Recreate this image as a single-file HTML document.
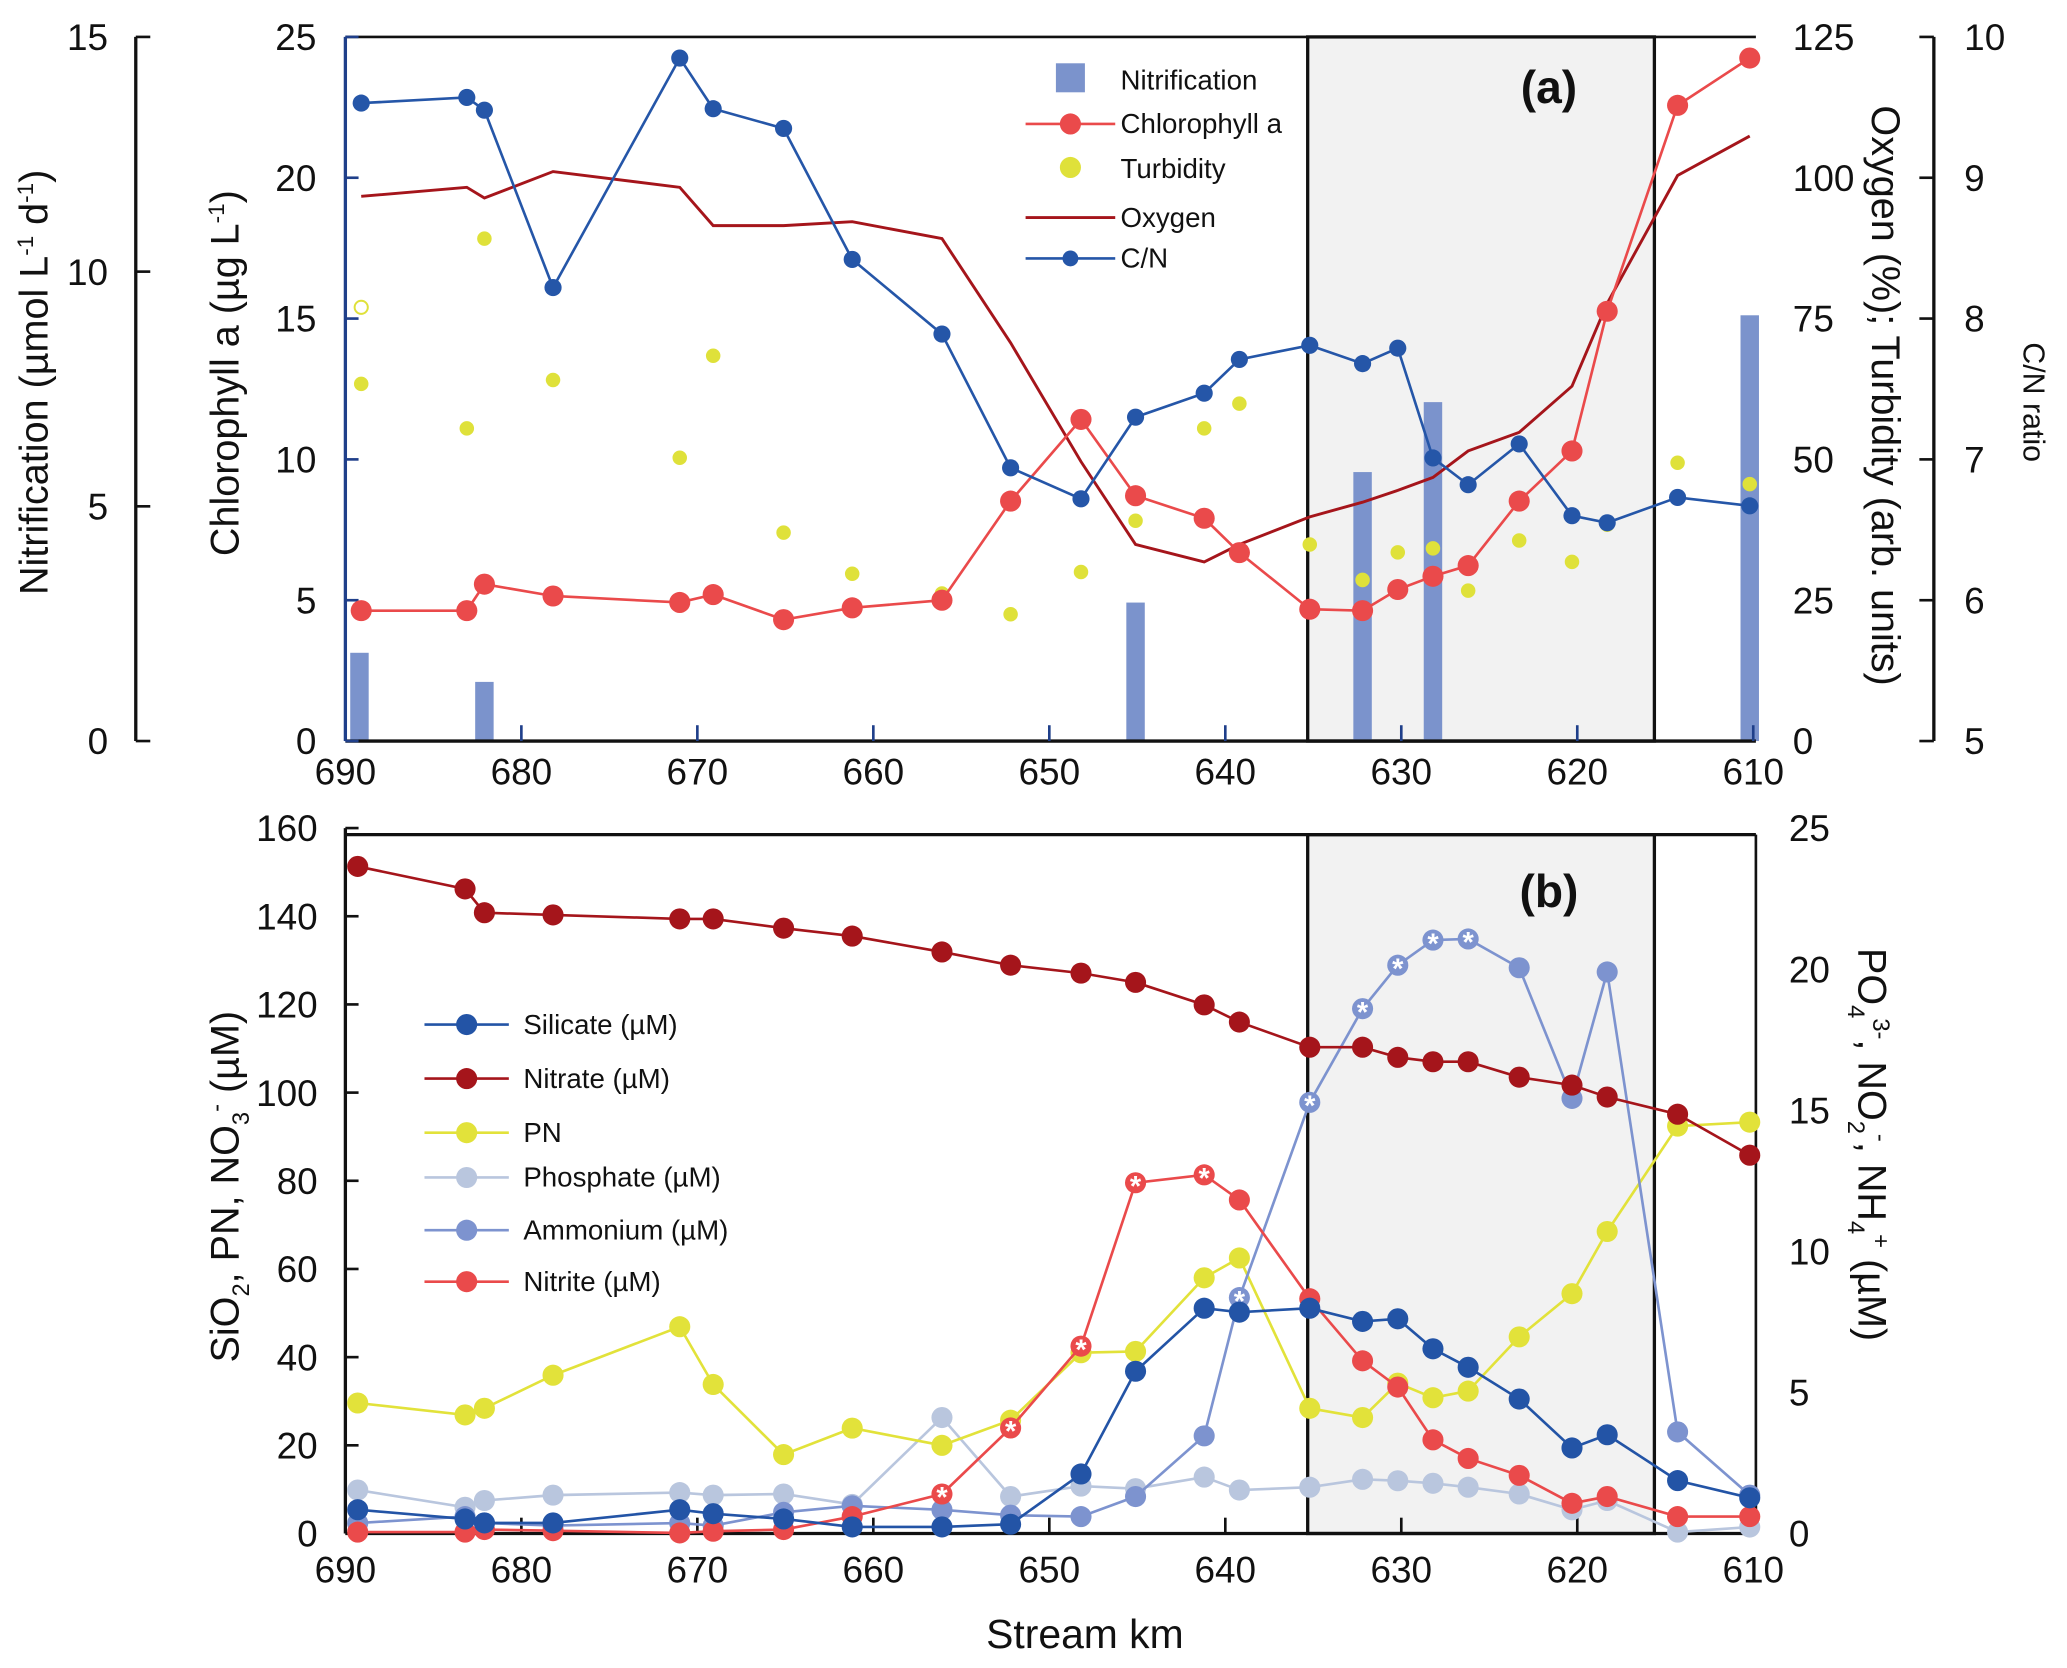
<!DOCTYPE html>
<html><head><meta charset="utf-8"><style>
html,body{margin:0;padding:0;background:#fff}
svg{display:block}
text{font-family:"Liberation Sans",sans-serif;fill:#111}
</style></head><body>
<svg id="chart" xmlns="http://www.w3.org/2000/svg" width="2067" height="1668" viewBox="0 0 1568 1265" preserveAspectRatio="none">
<g id="g"></g>
</svg>
<script>
// ---------- data ----------
const kmA = [689.1,683.1,682.1,678.2,671.0,669.1,665.1,661.2,656.1,652.2,648.2,645.1,641.2,639.2,635.2,632.2,630.2,628.2,626.2,623.3,620.3,618.3,614.3,610.2];
const cnRatio = [9.53,9.57,9.48,8.22,9.85,9.49,9.35,8.42,7.89,6.94,6.72,7.30,7.47,7.71,7.81,7.68,7.79,7.01,6.82,7.11,6.60,6.55,6.73,6.67];
const chlA = [4.63,4.63,5.57,5.15,4.92,5.2,4.31,4.73,5.0,8.52,11.42,8.71,7.91,6.69,4.68,4.63,5.38,5.85,6.23,8.52,10.3,15.26,22.57,24.25];
const oxygen = [96.7,98.3,96.4,101.1,98.3,91.5,91.5,92.2,89.2,70.7,49.6,34.9,31.8,34.9,39.8,42.4,44.5,46.8,51.5,54.8,63,77.7,100.4,107.4];
const turbidity = [63.4,55.5,89.2,64.1,50.3,68.4,37,29.7,26.2,22.5,30,39.1,55.5,59.9,34.9,28.6,33.5,34.2,26.7,35.6,31.8,38.4,49.4,45.6];
const turbHollowKm = [689.1];
const turbHollow = [77];
const nitrifKm = [689.2,682.1,645.1,632.2,628.2,610.2];
const nitrification = [1.88,1.26,2.95,5.73,7.22,9.07];

const kmB = [689.3,683.2,682.1,678.2,671.0,669.1,665.1,661.2,656.1,652.2,648.2,645.1,641.2,639.2,635.2,632.2,630.2,628.2,626.2,623.3,620.3,618.3,614.3,610.2];
const nitrate = [151.3,146.2,140.8,140.3,139.4,139.4,137.3,135.5,131.9,128.9,127.1,125,119.9,116,110.3,110.3,108,107,107,103.5,101.7,99,95.1,85.8];
const silicate = [5.4,3.3,2.4,2.4,5.4,4.5,3.3,1.5,1.5,2.1,13.5,36.8,51.1,50.2,51.1,48.1,48.7,41.9,37.7,30.5,19.4,22.4,12,8.1];
const pn = [29.6,26.9,28.4,35.9,46.9,33.8,17.9,23.9,20,25.7,41,41.3,58,62.5,28.4,26.3,34.1,30.8,32.3,44.6,54.4,68.5,92.4,93.3];
const nitrite = [0.05,0.05,0.14,0.1,0.02,0.08,0.14,0.6,1.4,3.74,6.64,12.43,12.71,11.82,8.32,6.12,5.19,3.32,2.66,2.06,1.07,1.31,0.6,0.6];
const nitriteStar = [0,0,0,0,0,0,0,0,1,1,1,1,1,0,0,0,0,0,0,0,0,0,0,0];
const ammonium = [0.37,0.6,0.37,0.28,0.37,0.28,0.75,0.98,0.84,0.65,0.6,1.31,3.46,8.36,15.28,18.6,20.14,21.03,21.07,20.05,15.42,19.9,3.6,1.36];
const ammoniumStar = [0,0,0,0,0,0,0,0,0,0,0,0,0,1,1,1,1,1,1,0,0,0,0,0];
const phosphate = [1.54,0.93,1.17,1.36,1.45,1.36,1.4,1.03,4.11,1.31,1.68,1.59,2.0,1.54,1.64,1.92,1.87,1.78,1.64,1.4,0.84,1.17,0.05,0.23];
const xTicks = [690,680,670,660,650,640,630,620,610];
const chlTicks = [0,5,10,15,20,25];
const nitTicks = [0,5,10,15];
const oxTicks = [0,25,50,75,100,125];
const cnTicks = [5,6,7,8,9,10];
const leftBTicks = [0,20,40,60,80,100,120,140,160];
const rightBTicks = [0,5,10,15,20,25];

// ---------- helpers ----------
const NS="http://www.w3.org/2000/svg";
const G=document.getElementById('g');
function mk(tag,attrs,parent){const e=document.createElementNS(NS,tag);for(const k in attrs)e.setAttribute(k,attrs[k]);(parent||G).appendChild(e);return e;}
function txt(s,x,y,size,anchor,parent,extra){const t=mk('text',Object.assign({x:x,y:y,'font-size':size,'text-anchor':anchor||'middle'},extra||{}),parent);t.innerHTML=s;return t;}
const X=km=>262+(690-km)*13.35;
const aTop=28,aBot=562,bTop=628,bBot=1163;
const yChl=v=>aBot-(v/25)*(aBot-aTop);
const yNit=v=>aBot-(v/15)*(aBot-aTop);
const yOx=v=>aBot-(v/125)*(aBot-aTop);
const yCN=v=>aBot-((v-5)/5)*(aBot-aTop);
const yL=v=>bBot-(v/160)*(bBot-bTop);
const yR=v=>bBot-(v/25)*(bBot-bTop);
const TF=28;

// ---------- panel a ----------
const pa=mk('g',{});


const shA=mk('rect',{x:992,y:aTop,width:263,height:aBot-aTop,fill:'#f2f2f2',stroke:'#111','stroke-width':2.5},pa);


nitrifKm.forEach((k,i)=>{const b=mk('rect',{x:X(k)-7,y:yNit(nitrification[i]),width:14,height:aBot-yNit(nitrification[i]),fill:'#7b93cc'},pa);

});
mk('line',{x1:262,y1:aTop,x2:1332,y2:aTop,stroke:'#111','stroke-width':2},pa);
mk('line',{x1:262,y1:aTop,x2:262,y2:aBot,stroke:'#1f3f8a','stroke-width':2.5},pa);
mk('line',{x1:262,y1:aBot,x2:1332,y2:aBot,stroke:'#111','stroke-width':2.5},pa);
xTicks.forEach(v=>{mk('line',{x1:X(v),y1:aBot,x2:X(v),y2:aBot-12,stroke:'#1f3f8a','stroke-width':2},pa);
const t=txt(v,X(v),aBot+33,TF,'middle',pa);});
chlTicks.forEach(v=>{mk('line',{x1:262,y1:yChl(v),x2:272,y2:yChl(v),stroke:'#1f3f8a','stroke-width':2},pa);txt(v,240,yChl(v)+10,TF,'end',pa);});
mk('line',{x1:103,y1:aTop,x2:103,y2:aBot,stroke:'#111','stroke-width':2.5},pa);
nitTicks.forEach(v=>{mk('line',{x1:103,y1:yNit(v),x2:114,y2:yNit(v),stroke:'#111','stroke-width':2},pa);txt(v,82,yNit(v)+10,TF,'end',pa);});
oxTicks.forEach(v=>{txt(v,1360,yOx(v)+10,TF,'start',pa);});
mk('line',{x1:1467,y1:aTop,x2:1467,y2:aBot,stroke:'#111','stroke-width':2.5},pa);
cnTicks.forEach(v=>{mk('line',{x1:1456,y1:yCN(v),x2:1467,y2:yCN(v),stroke:'#111','stroke-width':2},pa);txt(v,1490,yCN(v)+10,TF,'start',pa);});
let t;
t=txt('Nitrification (µmol L<tspan font-size="17" dy="-11">-1</tspan><tspan dy="11"> d</tspan><tspan font-size="17" dy="-11">-1</tspan><tspan dy="11">)</tspan>',0,0,30,'middle',pa,{transform:'translate(36,290) rotate(-90)'});

t=txt('Chlorophyll a (µg L<tspan font-size="17" dy="-11">-1</tspan><tspan dy="11">)</tspan>',0,0,30,'middle',pa,{transform:'translate(181,283) rotate(-90)'});

t=txt('Oxygen (%); Turbidity (arb. units)',0,0,30,'middle',pa,{transform:'translate(1420,300) rotate(90)'});

t=txt('C/N ratio',0,0,23,'middle',pa,{transform:'translate(1535,305) rotate(90)'});

t=txt('(a)',1175,78,35,'middle',pa,{'font-weight':'bold'});

turbidity.forEach((v,i)=>{const c=mk('circle',{cx:X(kmA[i]),cy:yOx(v),r:5.5,fill:'#dfe13a'},pa);
});
turbHollow.forEach((v,i)=>{const c=mk('circle',{cx:X(turbHollowKm[i]),cy:yOx(v),r:5,fill:'#fff',stroke:'#dfe13a','stroke-width':1.5},pa);
});
function series(par,kms,vals,yf,color,r,lw,name,line){
 if(line!==false){const p=mk('polyline',{points:kms.map((k,i)=>X(k)+','+yf(vals[i])).join(' '),fill:'none',stroke:color,'stroke-width':lw},par);
 }
 if(r>0)vals.forEach((v,i)=>{const c=mk('circle',{cx:X(kms[i]),cy:yf(v),r:r,fill:color},par);
 });
}
series(pa,kmA,oxygen,yOx,'#a5151b',0,2.2,'oxygen');
series(pa,kmA,chlA,yChl,'#ea4a4b',8,2,'chlorophyll');
series(pa,kmA,cnRatio,yCN,'#2556a8',6.5,2,'cn-ratio');
const la=mk('g',{},pa);

mk('rect',{x:801,y:48,width:22,height:22,fill:'#7b93cc'},la);txt('Nitrification',850,68,21,'start',la);
mk('line',{x1:778,y1:94,x2:846,y2:94,stroke:'#ea4a4b','stroke-width':2},la);mk('circle',{cx:812,cy:94,r:8,fill:'#ea4a4b'},la);txt('Chlorophyll a',850,101,21,'start',la);
mk('circle',{cx:812,cy:127,r:8,fill:'#dfe13a'},la);txt('Turbidity',850,135,21,'start',la);
mk('line',{x1:778,y1:165,x2:846,y2:165,stroke:'#a5151b','stroke-width':2.2},la);txt('Oxygen',850,172,21,'start',la);
mk('line',{x1:778,y1:196,x2:846,y2:196,stroke:'#2556a8','stroke-width':2},la);mk('circle',{cx:812,cy:196,r:6,fill:'#2556a8'},la);txt('C/N',850,203,21,'start',la);

// ---------- panel b ----------
const pb=mk('g',{});


const shB=mk('rect',{x:992,y:633,width:263,height:bBot-633,fill:'#f2f2f2',stroke:'#111','stroke-width':2.5},pb);


mk('line',{x1:262,y1:633,x2:1332,y2:633,stroke:'#111','stroke-width':2.5},pb);
mk('line',{x1:1332,y1:633,x2:1332,y2:bBot,stroke:'#111','stroke-width':2},pb);
mk('line',{x1:262,y1:bTop,x2:262,y2:bBot,stroke:'#111','stroke-width':2.5},pb);
mk('line',{x1:262,y1:bBot,x2:1332,y2:bBot,stroke:'#111','stroke-width':2.5},pb);
xTicks.forEach(v=>{mk('line',{x1:X(v),y1:bBot,x2:X(v),y2:bBot-12,stroke:'#111','stroke-width':2},pb);
const t=txt(v,X(v),bBot+37,TF,'middle',pb);});
leftBTicks.forEach(v=>{mk('line',{x1:262,y1:yL(v),x2:272,y2:yL(v),stroke:'#111','stroke-width':2},pb);txt(v,241,yL(v)+10,TF,'end',pb);});
rightBTicks.forEach(v=>{txt(v,1357,yR(v)+10,TF,'start',pb);});
t=txt('SiO<tspan font-size="18" dy="8">2</tspan><tspan dy="-8">, PN, NO</tspan><tspan font-size="18" dy="8">3</tspan><tspan font-size="18" dy="-19">-</tspan><tspan dy="11"> (µM)</tspan>',0,0,30,'middle',pb,{transform:'translate(181,900) rotate(-90)'});

t=txt('PO<tspan font-size="18" dy="8">4</tspan><tspan font-size="18" dy="-19">3-</tspan><tspan dy="11">, NO</tspan><tspan font-size="18" dy="8">2</tspan><tspan font-size="18" dy="-19">-</tspan><tspan dy="11">, NH</tspan><tspan font-size="18" dy="8">4</tspan><tspan font-size="18" dy="-19">+</tspan><tspan dy="11"> (µM)</tspan>',0,0,30,'middle',pb,{transform:'translate(1410,868) rotate(90)'});

t=txt('Stream km',823,1250,31,'middle',pb);

t=txt('(b)',1175,688,35,'middle',pb,{'font-weight':'bold'});

series(pb,kmB,phosphate,yR,'#b9c6de',8,2,'phosphate');
series(pb,kmB,pn,yL,'#e2e23a',8,2,'pn');
series(pb,kmB,ammonium,yR,'#7d93cf',8,2,'ammonium');
series(pb,kmB,nitrite,yR,'#ea4a4b',8,2,'nitrite');
series(pb,kmB,silicate,yL,'#2354a6',8,2,'silicate');
series(pb,kmB,nitrate,yL,'#a5151b',8,2,'nitrate');
function stars(arr,flags,yf){arr.forEach((v,i)=>{if(flags[i]){const s=txt('*',X(kmB[i]),yf(v)+10,22,'middle',pb,{style:'fill:#fff;font-weight:bold'});
}});}
stars(nitrite,nitriteStar,yR);stars(ammonium,ammoniumStar,yR);
const lb=mk('g',{},pb);

[['Silicate (µM)','#2354a6',777],['Nitrate (µM)','#a5151b',818],['PN','#e2e23a',859],['Phosphate (µM)','#b9c6de',893],['Ammonium (µM)','#7d93cf',933],['Nitrite (µM)','#ea4a4b',972]].forEach(r=>{
mk('line',{x1:322,y1:r[2],x2:386,y2:r[2],stroke:r[1],'stroke-width':2},lb);mk('circle',{cx:354,cy:r[2],r:8,fill:r[1]},lb);txt(r[0],397,r[2]+7,21,'start',lb);});
</script>
</body></html>
